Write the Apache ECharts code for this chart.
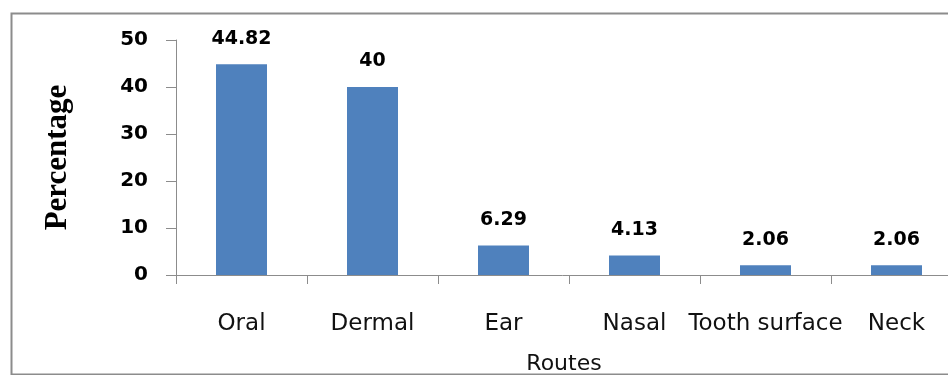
<!DOCTYPE html>
<html>
<head>
<meta charset="utf-8">
<script src="https://cdn.jsdelivr.net/npm/echarts@6/dist/echarts.min.js"></script>
<style>
  html, body { margin: 0; padding: 0; background: #ffffff; }
  #chart { width: 948px; height: 375px; }
</style>
</head>
<body>
<div id="chart"></div>
<script>
// Routes of administration and their share (%)
const routes = ['Oral', 'Dermal', 'Ear', 'Nasal', 'Tooth surface', 'Neck'];
const percentages = [44.82, 40, 6.29, 4.13, 2.06, 2.06];
const yTicks = { min: 0, max: 50, interval: 10 };

const chart = echarts.init(document.getElementById('chart'), null, { renderer: 'canvas' });

const axisGray = '#8c8c8c';

chart.setOption({
  backgroundColor: '#ffffff',
  animation: false,
  graphic: [{
    type: 'rect',
    left: 9,
    top: 11,
    shape: { width: 960, height: 361 },
    style: { fill: 'none', stroke: axisGray, lineWidth: 2 },
    silent: true,
    z: -1
  }],
  // fixed plot rectangle; the last category runs slightly past the right edge
  grid: { left: 176, top: 40, width: 786, height: 235, containLabel: false, outerBoundsMode: 'none' },
  xAxis: {
    type: 'category',
    data: routes,
    boundaryGap: true,
    axisLine: { show: true, lineStyle: { color: axisGray, width: 1 } },
    axisTick: { show: true, length: 9, alignWithLabel: false, lineStyle: { color: axisGray } },
    axisLabel: {
      interval: 0,
      margin: 38,
      color: '#111111',
      fontFamily: 'DejaVu Sans',
      fontSize: 23
    },
    name: 'Routes',
    nameLocation: 'middle',
    nameGap: 78,
    nameTextStyle: { color: '#111111', fontFamily: 'DejaVu Sans', fontSize: 22, padding: [0, 10, 0, 0] }
  },
  yAxis: {
    type: 'value',
    min: yTicks.min,
    max: yTicks.max,
    interval: yTicks.interval,
    splitLine: { show: false },
    axisLine: { show: true, lineStyle: { color: axisGray, width: 1 } },
    axisTick: { show: true, length: 10, inside: false, lineStyle: { color: axisGray } },
    axisLabel: {
      margin: 28,
      color: '#000000',
      fontFamily: 'DejaVu Sans',
      fontWeight: 'bold',
      fontSize: 20
    },
    name: 'Percentage',
    nameLocation: 'middle',
    nameGap: 103,
    nameTextStyle: { color: '#000000', fontFamily: 'Liberation Serif', fontWeight: 'bold', fontSize: 31 }
  },
  series: [{
    type: 'bar',
    data: percentages,
    barWidth: 51,
    itemStyle: { color: '#4f81bd' },
    label: {
      show: true,
      position: 'top',
      distance: 16,
      color: '#000000',
      fontFamily: 'DejaVu Sans',
      fontWeight: 'bold',
      fontSize: 19,
      formatter: (p) => String(p.value)
    }
  }]
});
</script>
</body>
</html>
